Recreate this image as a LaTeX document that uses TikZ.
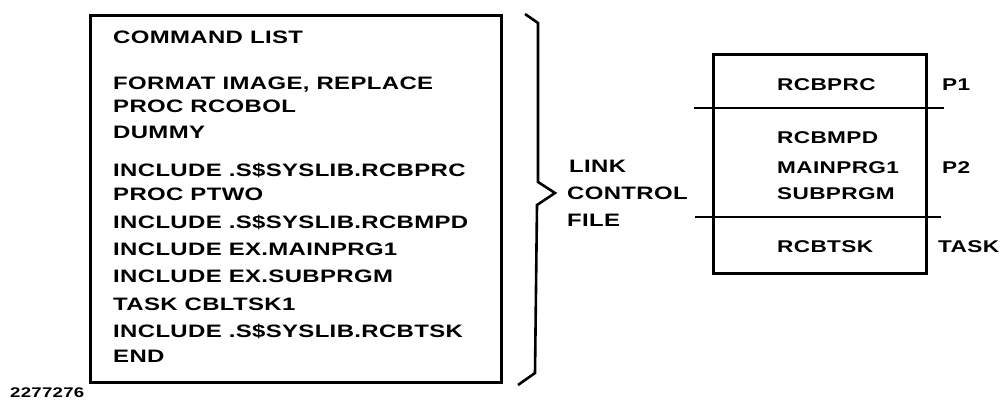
\documentclass[tikz,border=0pt]{standalone}
\usepackage{fontspec}
\setmainfont{Liberation Sans}[FakeStretch=1.33, LetterSpace=2]
\begin{document}
\begin{tikzpicture}[x=1pt,y=-1pt,
  frame/.style={draw, line width=2.6pt, line join=miter},
  cmdtext/.style={anchor=base west, inner sep=0pt, font=\fontsize{18}{20}\selectfont\bfseries},
  modtext/.style={anchor=base west, inner sep=0pt, font=\fontsize{17}{19}\selectfont\bfseries},
  numtext/.style={anchor=base west, inner sep=0pt, font=\fontsize{14}{16}\selectfont\bfseries}]
\useasboundingbox (0,0) rectangle (1003,401);
% left command list box
\node[frame, anchor=north west, minimum width=411pt, minimum height=367pt, inner sep=0pt] (cmd) at (89,14) {};
\node[cmdtext] (l0) at (113,44) {COMMAND LIST};
\node[cmdtext] (l1) at (113,89.5) {FORMAT IMAGE, REPLACE};
\node[cmdtext] (l2) at (113,112.5) {PROC RCOBOL};
\node[cmdtext] (l3) at (113,138.5) {DUMMY};
\node[cmdtext] (l4) at (113,176.5) {INCLUDE .S\$SYSLIB.RCBPRC};
\node[cmdtext] (l5) at (113,200.5) {PROC PTWO};
\node[cmdtext] (l6) at (113,228.5) {INCLUDE .S\$SYSLIB.RCBMPD};
\node[cmdtext] (l7) at (113,255.5) {INCLUDE EX.MAINPRG1};
\node[cmdtext] (l8) at (113,282.5) {INCLUDE EX.SUBPRGM};
\node[cmdtext] (l9) at (113,310.5) {TASK CBLTSK1};
\node[cmdtext] (l10) at (113,337.5) {INCLUDE .S\$SYSLIB.RCBTSK};
\node[cmdtext] (l11) at (113,362.5) {END};
\node[numtext] (fig) at (10,397) {2277276};
% brace
\draw[line width=2.6pt, line join=miter] (525,14) -- (538,23) -- (538,182) -- (555,193) -- (537,205) -- (535,373) -- (518,385);
\node[cmdtext] (link) at (569,172.5) {LINK};
\node[cmdtext] (control) at (567,199.5) {CONTROL};
\node[cmdtext] (file) at (567,226.5) {FILE};
% right module box
\node[frame, anchor=north west, minimum width=213pt, minimum height=219pt, inner sep=0pt] (mod) at (712,53) {};
\coordinate (d1a) at (694,108); \coordinate (d1b) at (944,108);
\coordinate (d2a) at (695,217); \coordinate (d2b) at (941,217);
\draw[line width=2.4pt] (d1a) -- (d1b);
\draw[line width=2.4pt] (d2a) -- (d2b);
\node[modtext] (m1) at (777,91) {RCBPRC};
\node[modtext] (m2) at (777,143) {RCBMPD};
\node[modtext] (m3) at (777,173) {MAINPRG1};
\node[modtext] (m4) at (777,199) {SUBPRGM};
\node[modtext] (m5) at (777,252) {RCBTSK};
\node[modtext] (p1) at (942,91) {P1};
\node[modtext] (p2) at (942,173) {P2};
\node[modtext] (task) at (938,252) {TASK};
\end{tikzpicture}
\end{document}
